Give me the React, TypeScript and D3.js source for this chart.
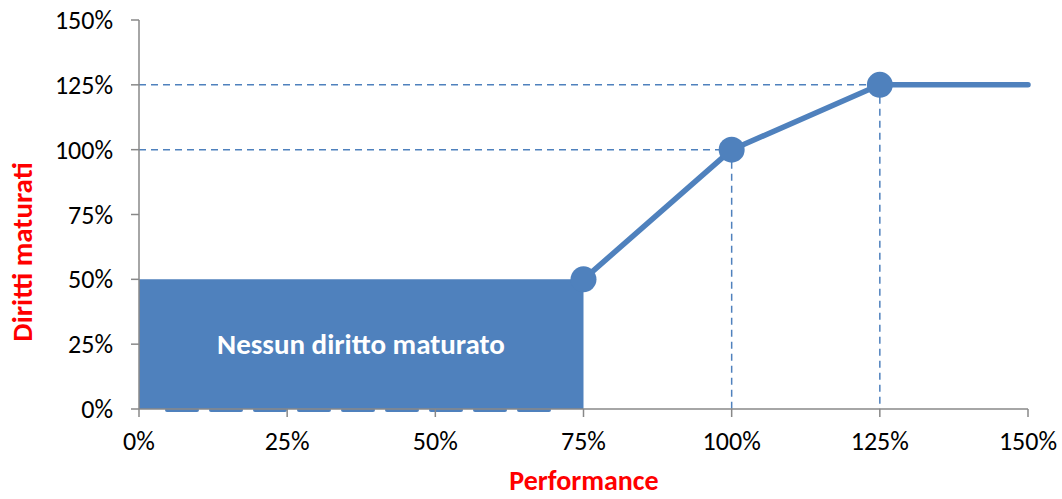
import React from "react";
import * as d3 from "d3";

const xTicks = [0, 0.25, 0.5, 0.75, 1, 1.25, 1.5];
const yTicks = [0, 0.25, 0.5, 0.75, 1, 1.25, 1.5];
const linePerf = [0.75, 1, 1.25, 1.5];
const lineVal = [0.5, 1, 1.25, 1.25];
const markerIdx = [0, 1, 2];
const areaPerf = [0, 0.75];
const areaVal = [0.5, 0.5];
const guidePerf = [1, 1.25];
const guideVal = [1, 1.25];

const W = 1062, H = 499;
const BLUE = "#4f81bd";
const FONT = "Carlito, 'Liberation Sans', Arial, sans-serif";

export default function App() {
  const x = d3.scaleLinear().domain([0, 1.5]).range([139, 1028]);
  const y = d3.scaleLinear().domain([0, 1.5]).range([409, 20]);
  const fmt = d3.format(".0%");
  const pts = linePerf.map((p, i) => [p, lineVal[i]] as [number, number]);
  const line = d3.line<[number, number]>().x(d => x(d[0])).y(d => y(d[1]));
  const areaPts = areaPerf.map((p, i) => [p, areaVal[i]] as [number, number]);
  const area = d3.area<[number, number]>().x(d => x(d[0])).y0(y(0)).y1(d => y(d[1]));
  return (
    <svg width={W} height={H} style={{ position: "absolute", left: 0, top: 0, background: "#fff" }} fontFamily={FONT}>
      <rect x={0} y={0} width={W} height={H} fill="#fff" />
      <path d={area(areaPts) || ""} fill={BLUE} />
      <line x1={x(0) + 28} x2={x(0.75) - 28} y1={y(0) + 1} y2={y(0) + 1} stroke={BLUE} strokeWidth={4} strokeDasharray="30 14" strokeLinecap="round" />
      {guidePerf.map((p, i) => (
        <g key={i}>
          <line x1={x(0)} x2={x(p)} y1={y(guideVal[i])} y2={y(guideVal[i])} stroke={BLUE} strokeWidth={1.5} strokeDasharray="7 5" />
          <line x1={x(p)} x2={x(p)} y1={y(guideVal[i])} y2={y(0)} stroke={BLUE} strokeWidth={1.5} strokeDasharray="7 5" />
        </g>
      ))}
      <line x1={x(0)} x2={x(0)} y1={y(1.5)} y2={y(0)} stroke="#888" strokeWidth={1.5} />
      <line x1={x(0)} x2={x(1.5)} y1={y(0)} y2={y(0)} stroke="#888" strokeWidth={1.5} />
      {yTicks.map((t, i) => (
        <g key={i}>
          <line x1={x(0) - 8} x2={x(0)} y1={y(t)} y2={y(t)} stroke="#888" strokeWidth={1.5} />
          <text x={113} y={y(t)} dy="0.35em" textAnchor="end" fontSize={26} fill="#000">{fmt(t)}</text>
        </g>
      ))}
      {xTicks.map((t, i) => (
        <g key={i}>
          <line x1={x(t)} x2={x(t)} y1={y(0)} y2={y(0) + 8} stroke="#888" strokeWidth={1.5} />
          <text x={x(t)} y={450} textAnchor="middle" fontSize={26} fill="#000">{fmt(t)}</text>
        </g>
      ))}
      <path d={line(pts) || ""} fill="none" stroke={BLUE} strokeWidth={5.5} strokeLinecap="round" strokeLinejoin="round" />
      {markerIdx.map(i => (
        <circle key={i} cx={x(linePerf[i])} cy={y(lineVal[i])} r={13} fill={BLUE} />
      ))}
      <text x={361} y={344} dy="0.35em" textAnchor="middle" fontSize={29} fontWeight="bold" fill="#fff">Nessun diritto maturato</text>
      <text transform={`translate(32,252) rotate(-90)`} textAnchor="middle" fontSize={29} fontWeight="bold" fill="#ff0000">Diritti maturati</text>
      <text x={584} y={490} textAnchor="middle" fontSize={28} fontWeight="bold" fill="#ff0000">Performance</text>
    </svg>
  );
}
